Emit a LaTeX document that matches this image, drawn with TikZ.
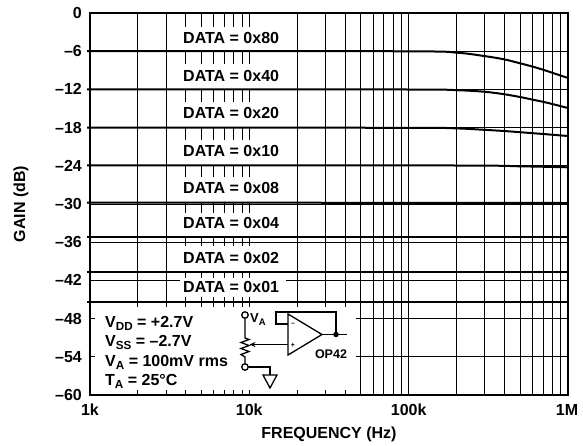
\documentclass[tikz,border=0pt]{standalone}
\usepackage{fontspec}
\setmainfont{Liberation Sans}
\usetikzlibrary{arrows.meta}
\newcommand{\subL}[1]{\raisebox{-3.2pt}{\fontsize{11.7}{11.7}\selectfont #1}}
\newcommand{\subS}[1]{\raisebox{-3pt}{\fontsize{9.5}{9.5}\selectfont #1}}
\begin{document}
\begin{tikzpicture}[x=1pt,y=-1pt,
  font=\bfseries\fontsize{16}{16}\selectfont,
  gridline/.style={line width=1.0pt},
  decade/.style={line width=1.6pt},
  curve/.style={line width=2.0pt},
  frame/.style={line width=1.4pt},
  wire/.style={line width=1.3pt},
  datalabel/.style={anchor=west, inner sep=0pt},
  ticklabel/.style={anchor=east, inner sep=0pt},
  txt/.style={anchor=base west, inner sep=0pt},
  term/.style={circle, draw, line width=1.3pt, fill=white, inner sep=0pt, minimum size=6.5pt},
  dotnode/.style={circle, fill=black, inner sep=0pt, minimum size=5.5pt}]
\useasboundingbox (0,0) rectangle (583,445);
% horizontal grid
\foreach \k in {1,...,9} {
  \pgfmathsetmacro\yy{13+38.2*\k}
  \draw[gridline] (90,\yy) -- (568,\yy);
}
% vertical grid
\foreach \d in {0,1,2} {
  \foreach \m in {2,...,9} {
    \pgfmathsetmacro\xx{90+159.333*(\d+log10(\m))}
    \draw[gridline] (\xx,13) -- (\xx,395);
  }
}
\foreach \d in {1,2} {
  \pgfmathsetmacro\xx{90+159.333*\d}
  \draw[decade] (\xx,13) -- (\xx,395);
}
% white label boxes
\foreach \a/\b in {27/51, 64/89, 102/128, 140/165, 177/203, 213/237, 246/272, 278/297}
  \fill[white] (180,\a) rectangle (286,\b);
% inset box
\fill[white] (90,302) rectangle (356,395);
% inset ticks
\foreach \d in {0,1} {
  \foreach \m in {2,...,10} {
    \pgfmathsetmacro\xx{90+159.333*(\d+log10(\m))}
    \draw[gridline] (\xx,302) -- (\xx,307);
    \draw[gridline] (\xx,395) -- (\xx,390);
  }
}
\foreach \m in {2,3,4} {
  \pgfmathsetmacro\xx{90+159.333*(1+log10(\m))}
  \draw[gridline] (\xx,302) -- (\xx,307);
  \draw[gridline] (\xx,395) -- (\xx,390);
}
\draw[gridline] (90,318.6) -- (95,318.6);
\draw[gridline] (90,356.8) -- (95,356.8);
% curves
\draw[curve] plot[smooth, tension=0.5] coordinates {(87,51) (409,51.3) (457,52.7) (484,56) (504,59.3) (520,63.3) (533,66.7) (547,71) (568,78)};
\draw[curve] plot[smooth, tension=0.5] coordinates {(87,89.4) (409,89.5) (457,90.2) (484,91.7) (504,94.2) (520,97) (533,99.7) (547,102.7) (568,108)};
\draw[curve] plot[smooth, tension=0.5] coordinates {(87,127.6) (409,127.8) (457,128.4) (484,129.8) (504,131) (520,132.2) (533,133.2) (547,134.3) (568,136)};
\draw[curve] plot[smooth, tension=0.5] coordinates {(87,165.3) (457,165.5) (520,166.3) (568,167.3)};
\draw[curve] (87,202.5) -- (568,203);
\draw[curve] (87,237.3) -- (568,237.3);
\draw[curve] (87,272.3) -- (568,272.3);
\draw[curve] (87,302.3) -- (568,302.3);
% frame
\draw[frame] (90,13) rectangle (568,395);
% data labels
\foreach \t/\yy [count=\i] in {80/38, 40/76, 20/113, 10/151, 08/188, 04/223, 02/258, 01/287}
  \node[datalabel] (dl\i) at (183,\yy) {DATA = 0x\t};
% y tick labels
\foreach \i in {0,...,10} {
  \pgfmathtruncatemacro\t{6*\i}
  \pgfmathsetmacro\yy{13+38.2*\i}
  \node[ticklabel] (yl\i) at (82,\yy) {\ifnum\i=0 0\else\textendash\t\fi};
}
% x tick labels
\node (xl1) at (90,410) {1k};
\node (xl2) at (249.3,410) {10k};
\node (xl3) at (408.7,410) {100k};
\node (xl4) at (567,410) {1M};
% axis titles
\node (xlab) at (329,434) {FREQUENCY (Hz)};
\node[rotate=90] (ylab) at (21,204) {GAIN (dB)};
% inset text
\node[txt] (vdd) at (105,327) {V\subL{DD} = +2.7V};
\node[txt] (vss) at (105,346.5) {V\subL{SS} = \textendash2.7V};
\node[txt] (vaa) at (105,366) {V\subL{A} = 100mV rms};
\node[txt] (ta) at (105,385.5) {T\subL{A} = 25°C};
% circuit
\coordinate (rt) at (245,338);
\coordinate (rb) at (245,357);
\coordinate (wiper) at (249.5,344.5);
\coordinate (inp) at (288,344.5);
\coordinate (inm) at (288,324);
\coordinate (oa1) at (288,314);
\coordinate (oa2) at (288,355);
\coordinate (oaout) at (322,334.5);
\coordinate (outend) at (347,334.5);
\coordinate (gw) at (270,367);
\coordinate (gt) at (270,375);
\draw[wire] (245,318) -- (rt) -- (249,339.5) -- (241,342.5) -- (249,345.5) -- (241,348.5) -- (249,351.5) -- (241,354.5) -- (rb) -- (245,364);
\node[term] (va) at (245,315) {};
\node[term] (vb) at (245,367) {};
\draw[wire] (vb) -- (gw) -- (gt);
\draw[wire, line join=miter] (263,375) -- (277,375) -- (270,388) -- cycle;
\draw[wire, -{Stealth[length=6pt,width=5pt]}] (inp) -- (wiper);
\draw[wire, line join=miter] (oa1) -- (oa2) -- (oaout) -- cycle;
\node[dotnode] (dot) at (336,334.5) {};
\draw[wire] (inm) -- (276,324) -- (276,312) -- (336,312) -- (dot);
\draw[wire] (oaout) -- (outend);
\node[font=\bfseries\fontsize{7}{7}\selectfont, inner sep=0pt] (minus) at (293,324) {\textendash};
\node[font=\bfseries\fontsize{7}{7}\selectfont, inner sep=0pt] (plus) at (293,345) {+};
\node[txt, font=\bfseries\fontsize{13}{13}\selectfont] (valab) at (250,322) {V\subS{A}};
\node[font=\bfseries\fontsize{12.5}{12.5}\selectfont, inner sep=0pt] (oplab) at (331,354) {OP42};
\end{tikzpicture}
\end{document}
